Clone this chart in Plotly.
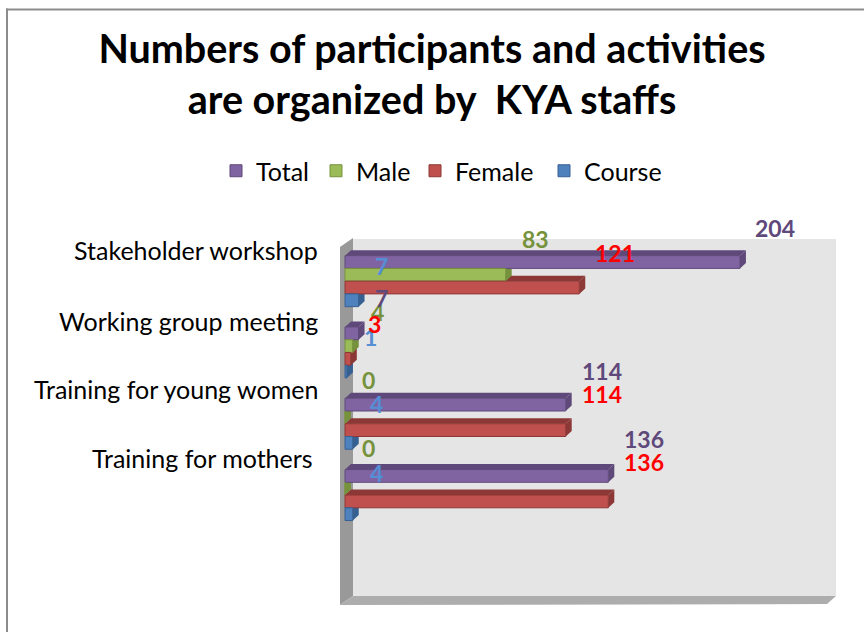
import plotly.graph_objects as go

categories = ["Stakeholder workshop", "Working group meeting", "Training for young women", "Training for mothers"]
band_positions = [0, 1, 2, 3]
total = [204, 7, 114, 136]
male = [83, 4, 0, 0]
female = [121, 3, 114, 136]
course = [7, 1, 4, 4]
series_names = ["Total", "Male", "Female", "Course"]
series_values = [total, male, female, course]
front_colors = ["#8064a2", "#9bbb59", "#c0504d", "#4f81bd"]
top_colors = ["#5f497a", "#76923c", "#8c3836", "#376092"]
label_colors = ["#5f497a", "#76923c", "#ff0000", "#558ed5"]

W, H = 864, 632
PX_X0, PX_PER_UNIT = 345.0, 1.936
PX_Y0, PX_PER_BAND = 281.15, 71.3
DEPTH_X, DEPTH_Y = 6.0, 5.5
GROUP = 51 / 71.3

def fx(p):
    return p / W
def fy(p):
    return 1 - p / H

def poly(pts, color):
    path = "M" + "L".join(f"{fx(x):.5f},{fy(y):.5f}" for x, y in pts) + "Z"
    return dict(type="path", path=path, xref="paper", yref="paper", fillcolor=color,
                line=dict(width=0), layer="below")

shapes = [
    poly([(353, 239), (836, 239), (836, 596), (353, 596)], "#e5e5e5"),
    poly([(340, 247), (353, 238), (353, 596), (340, 605)], "#999999"),
    poly([(340, 605), (353, 596), (836, 596), (827, 604)], "#adadad"),
    dict(type="line", xref="paper", yref="paper", x0=fx(7), x1=fx(7), y0=0, y1=fy(8.5),
         line=dict(color="#8c8c8c", width=2), layer="below"),
    dict(type="line", xref="paper", yref="paper", x0=fx(6), x1=1, y0=fy(9.5), y1=fy(9.5),
         line=dict(color="#8c8c8c", width=2), layer="below"),
]

dxv = DEPTH_X / PX_PER_UNIT
dyv = DEPTH_Y / PX_PER_BAND
w = GROUP / 4
# depth faces, drawn bottom series first so upper series overlap them
for s in (3, 2, 1, 0):
    for i, v in zip(band_positions, series_values[s]):
        top = i + (s - 2) * w
        bot = top + w
        c = top_colors[s]
        shapes.append(dict(type="path", xref="x", yref="y", layer="below", fillcolor=c, line=dict(width=0),
                           path=f"M0,{top}L{dxv},{top-dyv}L{v+dxv},{top-dyv}L{v},{top}Z"))
        shapes.append(dict(type="path", xref="x", yref="y", layer="below", fillcolor=c, line=dict(width=0),
                           path=f"M{v},{top}L{v+dxv},{top-dyv}L{v+dxv},{bot-dyv}L{v},{bot}Z"))

FONT = "Lato, Carlito, Calibri, sans-serif"
legend_ids = ["legend", "legend2", "legend3", "legend4"]
legend_left = [216, 316, 415, 544]

fig = go.Figure()
for s, name in enumerate(series_names):
    fig.add_trace(go.Bar(name=name, y=band_positions, x=series_values[s], orientation="h",
                         legend=legend_ids[s],
                         marker=dict(color=front_colors[s], line=dict(color=top_colors[s], width=1))))

annotations = []
def note(x, y, text, size, color, bold=False, anchor="center"):
    annotations.append(dict(x=fx(x), y=fy(y), xref="paper", yref="paper", text=f"<b>{text}</b>" if bold else text,
                            showarrow=False, xanchor=anchor, yanchor="middle",
                            font=dict(family=FONT, size=size, color=color)))

for label, y in zip(categories, [250, 321, 389, 458]):
    right = 315 if label == "Training for mothers" else 320
    note(right, y, label, 25, "#000000", anchor="right")

label_positions = [
    [(775, 228), (381, 298), (602, 371), (644, 439)],
    [(535, 239), (377, 312), (368, 380), (368, 448)],
    [(615, 253), (374, 324), (602, 394), (644, 462)],
    [(381, 266), (370, 337), (376, 404), (376, 473)],
]
for s in (3, 1, 0, 2):
    for v, (x, y) in zip(series_values[s], label_positions[s]):
        note(x, y, str(v), 23, label_colors[s], bold=True)

legends = {}
for lid, left in zip(legend_ids, legend_left):
    legends[lid] = dict(orientation="h", x=fx(left), xanchor="left", y=fy(171), yanchor="middle",
                        bgcolor="rgba(0,0,0,0)", itemclick=False, itemdoubleclick=False,
                        font=dict(family=FONT, size=25, color="#000000"))

fig.update_layout(
    width=W, height=H, margin=dict(l=0, r=0, t=0, b=0),
    paper_bgcolor="#ffffff", plot_bgcolor="rgba(0,0,0,0)",
    barmode="group", bargap=1 - GROUP, bargroupgap=0,
    title=dict(text="<b>Numbers of participants and activities<br>are organized by  KYA staffs</b>",
               x=0.5, xanchor="center", y=fy(63), yanchor="middle",
               font=dict(family=FONT, size=39.5, color="#000000")),
    xaxis=dict(range=[-PX_X0 / PX_PER_UNIT, (W - PX_X0) / PX_PER_UNIT], visible=False, domain=[0, 1]),
    yaxis=dict(range=[(H - PX_Y0) / PX_PER_BAND, -PX_Y0 / PX_PER_BAND], visible=False, domain=[0, 1]),
    shapes=shapes, annotations=annotations, showlegend=True,
    **legends,
)
fig.write_html("out.html", config=dict(displayModeBar=False), post_script="document.body.style.margin='0';")
